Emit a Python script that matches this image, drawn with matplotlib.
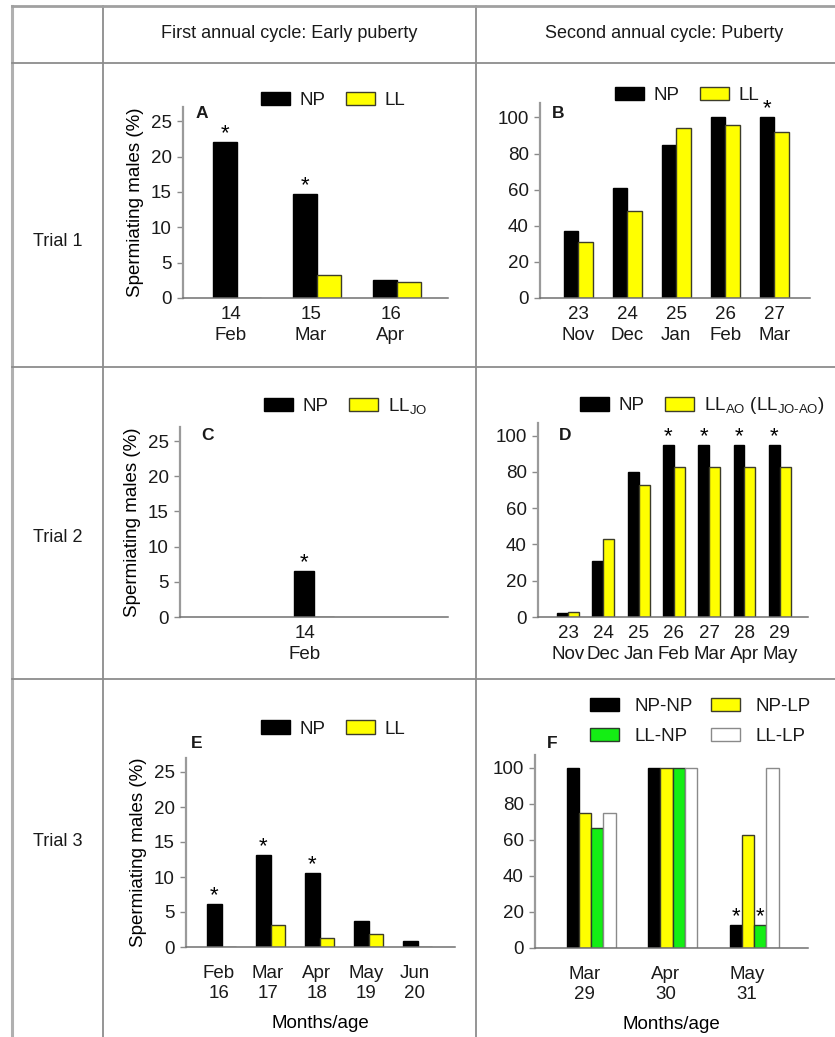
import numpy as np
import matplotlib.pyplot as plt
from matplotlib.lines import Line2D
from matplotlib.patches import Patch
from matplotlib.transforms import Affine2D, ScaledTranslation

plt.rcParams['font.family'] = ['Liberation Sans', 'DejaVu Sans']
plt.rcParams['mathtext.fontset'] = 'custom'
plt.rcParams['mathtext.rm'] = 'Liberation Sans'
plt.rcParams['text.color'] = '#1a1a1a'

# ---- data -------------------------------------------------------------------
# Panel A: trial 1, first annual cycle
months_a = ['Feb', 'Mar', 'Apr']
ages_a = [14, 15, 16]
np_a = [22.0, 14.7, 2.6]
ll_a = [0.0, 3.3, 2.3]
stars_a = [0, 1]

# Panel B: trial 1, second annual cycle
months_b = ['Nov', 'Dec', 'Jan', 'Feb', 'Mar']
ages_b = [23, 24, 25, 26, 27]
np_b = [37, 61, 85, 100, 100]
ll_b = [31, 48, 94, 96, 92]
stars_b = [4]

# Panel C: trial 2, first annual cycle
months_c = ['Feb']
ages_c = [14]
np_c = [6.5]
ll_c = [0.0]
stars_c = [0]

# Panel D: trial 2, second annual cycle
months_d = ['Nov', 'Dec', 'Jan', 'Feb', 'Mar', 'Apr', 'May']
ages_d = [23, 24, 25, 26, 27, 28, 29]
np_d = [2, 31, 80, 95, 95, 95, 95]
ll_d = [2.5, 43, 73, 83, 83, 83, 83]
stars_d = [3, 4, 5, 6]

# Panel E: trial 3, first annual cycle
months_e = ['Feb', 'Mar', 'Apr', 'May', 'Jun']
ages_e = [16, 17, 18, 19, 20]
np_e = [6.1, 13.1, 10.6, 3.7, 0.8]
ll_e = [0.0, 3.1, 1.3, 1.8, 0.0]
stars_e = [0, 1, 2]

# Panel F: trial 3, second annual cycle (photoperiod switch groups)
months_f = ['Mar', 'Apr', 'May']
ages_f = [29, 30, 31]
npnp_f = [100, 100, 12.5]
nplp_f = [75, 100, 62.5]
llnp_f = [66.7, 100, 12.5]
lllp_f = [75, 100, 100]
stars_f_npnp = [2]
stars_f_llnp = [2]

YLABEL = 'Spermiating males (%)'
XLABEL = 'Months/age'
FS = 13.5

BLACK = dict(facecolor='black', edgecolor='black')
YELLOW = dict(facecolor='#ffff00', edgecolor='#3d3d2a')
GREEN = dict(facecolor='#14ee14', edgecolor='#2a3d2a')
WHITE = dict(facecolor='white', edgecolor='#8a8a8a')

W, H = 835, 1037
fig = plt.figure(figsize=(W / 100, H / 100), dpi=100)
fig.patch.set_facecolor('white')

# pixel coordinates measured from the top-left corner
px = Affine2D().scale(1 / W, -1 / H).translate(0, 1) + fig.transFigure


def px_axes(left, top, right, bottom):
    return fig.add_axes([left / W, 1 - bottom / H, (right - left) / W, (bottom - top) / H])


# ---- table grid -------------------------------------------------------------
grid = dict(transform=px, color='#8c8c8c', lw=1.3)
for x in (103, 476):
    fig.add_artist(Line2D([x, x], [6, H], **grid))
fig.add_artist(Line2D([12, 12], [6, H], transform=px, color='#b0b0b0', lw=2.2))
for y in (63, 367, 679):
    fig.add_artist(Line2D([12, W], [y, y], **grid))
fig.add_artist(Line2D([12, W], [6, 6], transform=px, color='#a0a0a0', lw=2))

fig.text(289.5, 33, 'First annual cycle: Early puberty', transform=px,
         ha='center', va='center', fontsize=13)
fig.text(664, 33, 'Second annual cycle: Puberty', transform=px,
         ha='center', va='center', fontsize=13)
for y, lab in zip((242, 537, 842), ('Trial 1', 'Trial 2', 'Trial 3')):
    fig.text(57.5, y, lab, transform=px, ha='center', va='center', fontsize=13)


def style_axes(ax, yticks, ylim, xlim, xpad, xshift):
    ax.set_ylim(*ylim)
    ax.set_xlim(*xlim)
    ax.set_yticks(yticks)
    for s in ('top', 'right'):
        ax.spines[s].set_visible(False)
    ax.spines['left'].set_color('#9a9a9a')
    ax.spines['left'].set_linewidth(1.6)
    ax.spines['bottom'].set_color('#707070')
    ax.spines['bottom'].set_linewidth(1.1)
    ax.tick_params(axis='y', length=4, width=1, color='#8a8a8a', labelsize=FS,
                   labelcolor='#1a1a1a', pad=4)
    ax.tick_params(axis='x', length=0, labelsize=FS, labelcolor='#1a1a1a', pad=xpad)
    ax.set_facecolor('none')
    shift = ScaledTranslation(xshift / 100, 0, fig.dpi_scale_trans)
    for lab in ax.get_xticklabels():
        lab.set_transform(lab.get_transform() + shift)
        lab.set_linespacing(1.25)


def add_stars(ax, xs, vals, idx):
    for i in idx:
        ax.annotate('*', (xs[i], vals[i]), xytext=(0, 2), textcoords='offset points',
                    ha='center', va='baseline', fontsize=16, color='black')


def pair_panel(box, months, ages, np_vals, ll_vals, stars, width, ylim, yticks,
               xlim, leg_xy, ll_label, tag, tag_xy, age_first=True, xpad=6, xshift=0):
    ax = px_axes(*box)
    x = np.arange(len(months))
    ax.bar(x - width / 2, np_vals, width, linewidth=1, **BLACK)
    ax.bar(x + width / 2, ll_vals, width, linewidth=1, **YELLOW)
    add_stars(ax, x - width / 2, np_vals, stars)
    ax.set_xticks(x)
    if age_first:
        ax.set_xticklabels([f'{a}\n{m}' for a, m in zip(ages, months)])
    else:
        ax.set_xticklabels([f'{m}\n{a}' for a, m in zip(ages, months)])
    style_axes(ax, yticks, ylim, xlim, xpad, xshift)
    handles = [Patch(linewidth=1, **BLACK), Patch(linewidth=1, **YELLOW)]
    ax.legend(handles, ['NP', ll_label], loc='center left', bbox_to_anchor=leg_xy,
              bbox_transform=px, ncol=2, frameon=False, fontsize=FS, borderpad=0,
              borderaxespad=0, handlelength=1.55, handleheight=0.7, handletextpad=0.5,
              columnspacing=1.1)
    fig.text(*tag_xy, tag, transform=px, ha='center', va='center', fontsize=12.5,
             fontweight='bold')
    return ax


ax_a = pair_panel((183, 107, 448, 298), months_a, ages_a, np_a, ll_a, stars_a, 0.3,
                  (0, 27), range(0, 26, 5), (-0.675, 2.64), (261, 100.5), 'LL', 'A',
                  (202, 113), xshift=-6)
ax_a.set_ylabel(YLABEL, fontsize=FS, labelpad=5)

pair_panel((540, 103, 810, 298), months_b, ages_b, np_b, ll_b, stars_b, 0.3,
           (0, 108), range(0, 101, 20), (-0.78, 4.73), (615, 95.5), 'LL', 'B',
           (558, 113))

ax_c = pair_panel((180, 427, 448, 617), months_c, ages_c, np_c, ll_c, stars_c, 0.149,
                  (0, 27), range(0, 26, 5), (-1, 1), (264, 406.5),
                  r'LL$_{\mathrm{JO}}$', 'C', (207, 435), xshift=-9)
ax_c.set_ylabel(YLABEL, fontsize=FS, labelpad=5)

pair_panel((538, 423, 808, 617), months_d, ages_d, np_d, ll_d, stars_d, 0.31,
           (0, 107), range(0, 101, 20), (-0.85, 6.8), (580, 406),
           r'LL$_{\mathrm{AO}}$ (LL$_{\mathrm{JO‐AO}}$)', 'D', (565, 435))

ax_e = pair_panel((186, 758, 455, 947), months_e, ages_e, np_e, ll_e, stars_e, 0.3,
                  (0, 27), range(0, 26, 5), (-0.73, 4.76), (261, 729), 'LL', 'E',
                  (197, 744), age_first=False, xpad=13, xshift=-3)
ax_e.set_ylabel(YLABEL, fontsize=FS, labelpad=5)
ax_e.set_xlabel(XLABEL, fontsize=FS, labelpad=9)

# ---- panel F: four groups per month -------------------------------------------
ax_f = px_axes(535, 755, 808, 948)
xf = np.arange(len(months_f))
wf = 0.15
series_f = [(npnp_f, BLACK, 'NP-NP'), (nplp_f, YELLOW, 'NP-LP'),
            (llnp_f, GREEN, 'LL-NP'), (lllp_f, WHITE, 'LL-LP')]
for k, (vals, style, _) in enumerate(series_f):
    ax_f.bar(xf + (k - 1.5) * wf, vals, wf, linewidth=1, **style)
add_stars(ax_f, xf - 1.5 * wf, npnp_f, stars_f_npnp)
add_stars(ax_f, xf + 0.5 * wf, llnp_f, stars_f_llnp)
ax_f.set_xticks(xf)
ax_f.set_xticklabels([f'{m}\n{a}' for m, a in zip(months_f, ages_f)])
style_axes(ax_f, range(0, 101, 20), (0, 107), (-0.69, 2.66), 13, -7)
ax_f.set_xlabel(XLABEL, fontsize=FS, labelpad=9)
order = [0, 2, 1, 3]
ax_f.legend([Patch(linewidth=1, **series_f[i][1]) for i in order],
            [series_f[i][2] for i in order], loc='center left',
            bbox_to_anchor=(590, 721.5), bbox_transform=px, ncol=2, frameon=False,
            fontsize=FS, borderpad=0, borderaxespad=0, handlelength=1.55,
            handleheight=0.7, handletextpad=0.8, columnspacing=1.0, labelspacing=0.7)
fig.text(552, 743, 'F', transform=px, ha='center', va='center', fontsize=12.5,
         fontweight='bold')

fig.savefig('out.png', dpi=100)
